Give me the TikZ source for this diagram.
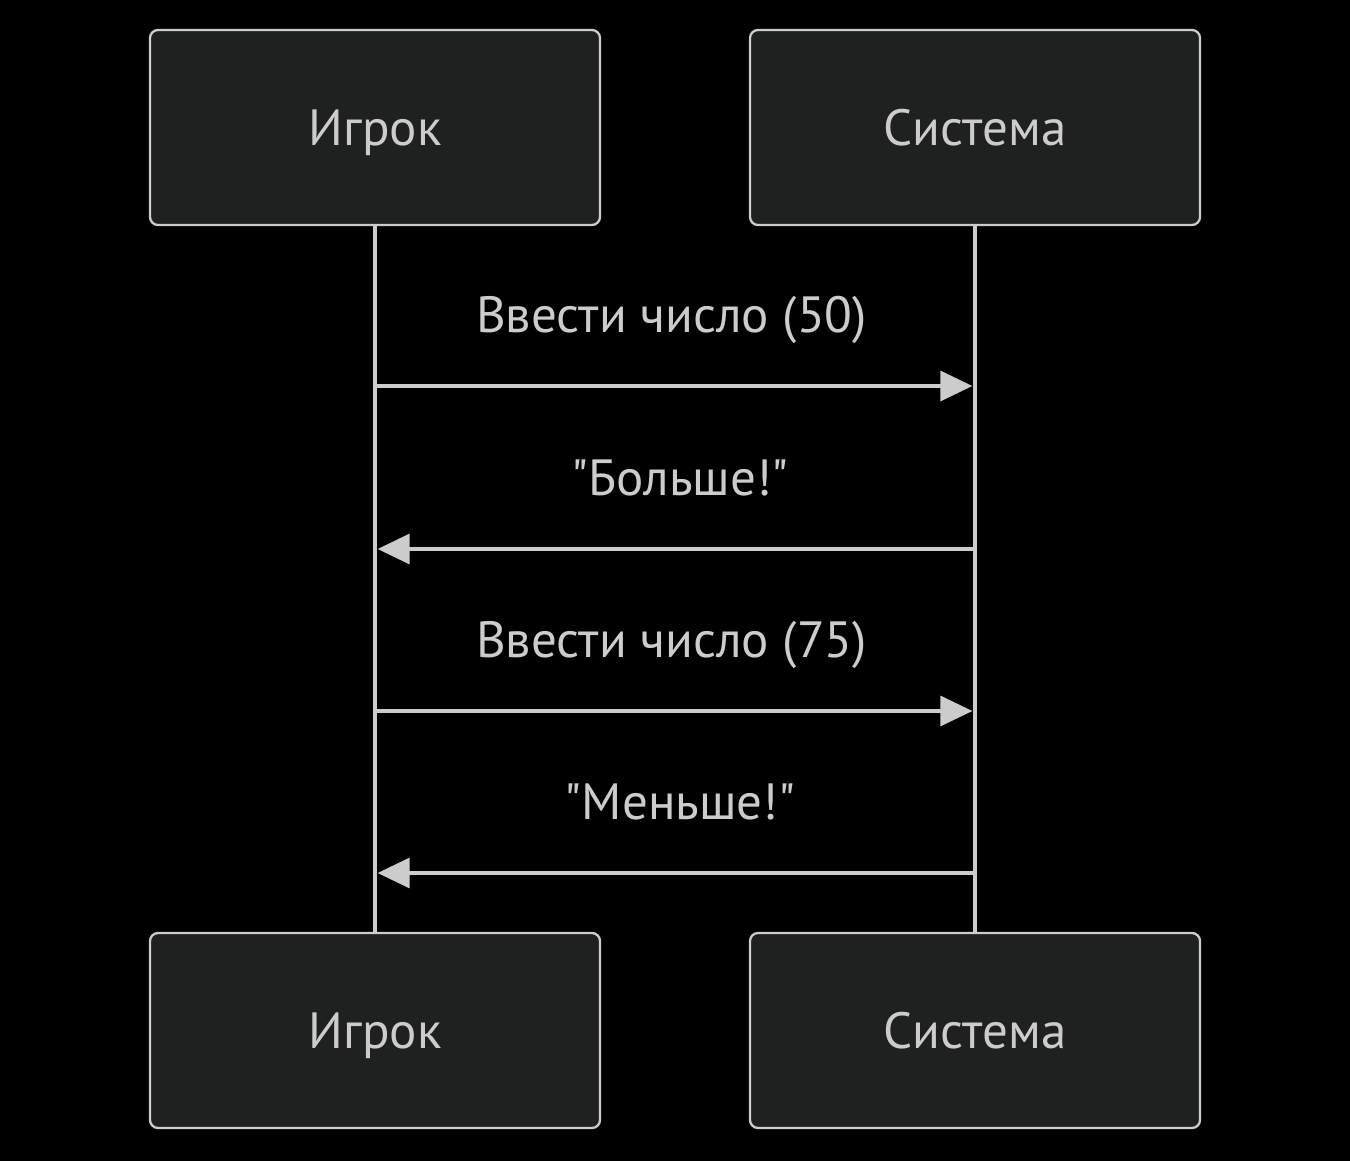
\documentclass[tikz,border=0pt]{standalone}
\usepackage{fontspec}
\setmainfont{PT Sans}
\usepackage{tikz}
\usetikzlibrary{shapes,arrows.meta,positioning,calc}

\definecolor{boxfill}{HTML}{1F2020}
\definecolor{linegray}{HTML}{CCCCCC}

\begin{document}
\begin{tikzpicture}[
  actor/.style={draw=linegray, line width=1.3pt, fill=boxfill, rounded corners=0.16cm,
    minimum width=9cm, minimum height=3.9cm, text=linegray, font=\fontsize{29}{34}\selectfont,
    text height=24pt, text depth=4pt},
  msg/.style={line width=1.8pt, draw=linegray, -{Triangle[length=0.64cm,width=0.6cm]}, shorten >=1.5pt},
  lbl/.style={text=linegray, font=\fontsize{29}{34}\selectfont, text height=24pt, text depth=4pt}
]
% фон
\fill[black] (0,0) rectangle (27,-23.22);
\useasboundingbox (0,0) rectangle (27,-23.22);

% участники
\node[actor] (player) at (7.5,-2.55) {Игрок};
\node[actor] (system) at (19.5,-2.55) {Система};
\node[actor] (playerB) at (7.5,-20.61) {Игрок};
\node[actor] (systemB) at (19.5,-20.61) {Система};

% линии жизни
\draw[linegray, line width=1.8pt] (player) -- (playerB);
\draw[linegray, line width=1.8pt] (system) -- (systemB);

% точки сообщений
\coordinate (p1) at (7.5,-7.72);  \coordinate (s1) at (19.5,-7.72);
\coordinate (p2) at (7.5,-10.98); \coordinate (s2) at (19.5,-10.98);
\coordinate (p3) at (7.5,-14.22); \coordinate (s3) at (19.5,-14.22);
\coordinate (p4) at (7.5,-17.46); \coordinate (s4) at (19.5,-17.46);

% сообщения
\draw[msg] (p1) -- (s1);
\node[lbl] (m1) at (13.43,-6.29) {Ввести число (50)};
\draw[msg] (s2) -- (p2);
\node[lbl] (m2) at (13.6,-9.55) {\textquotedbl Больше!\textquotedbl};
\draw[msg] (p3) -- (s3);
\node[lbl] (m3) at (13.43,-12.79) {Ввести число (75)};
\draw[msg] (s4) -- (p4);
\node[lbl] (m4) at (13.6,-16.03) {\textquotedbl Меньше!\textquotedbl};
\end{tikzpicture}
\end{document}
